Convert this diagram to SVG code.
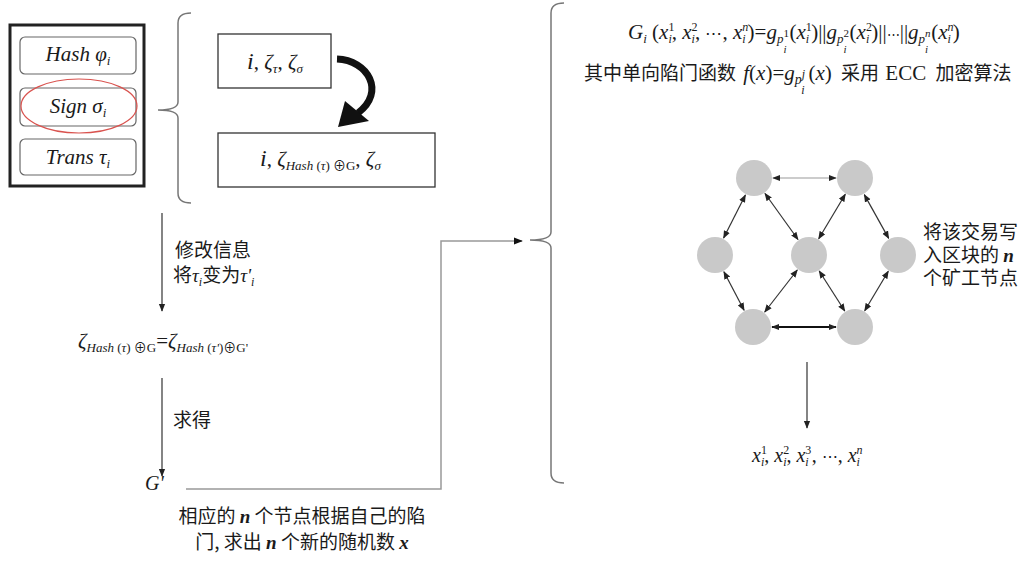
<svg xmlns="http://www.w3.org/2000/svg" width="1024" height="562" viewBox="0 0 1024 562">
<defs>
<style>
text{font-family:"Liberation Serif","Noto Sans CJK SC",serif;fill:#1a1a1a}
.it{font-style:italic}
.bi{font-style:italic;font-weight:bold;font-family:"Liberation Serif",serif}
.cn{font-family:"Noto Sans CJK SC","Liberation Serif",sans-serif}
.dots{font-family:"DejaVu Serif",serif;font-style:normal}
.inner{fill:#fff;stroke:#666;stroke-width:1.2}
.box{fill:#fff;stroke:#333;stroke-width:1.3}
.brace{fill:none;stroke:#777;stroke-width:1.5}
.node{fill:#c9c9c9}
.edge{stroke:#333;stroke-width:1.2;fill:none}
.arr{stroke:#333;stroke-width:1.2;fill:none}
</style>
<marker id="ah" viewBox="0 0 10 10" refX="9" refY="5" markerWidth="8" markerHeight="8" orient="auto-start-reverse" markerUnits="userSpaceOnUse"><path d="M0,1 L10,5 L0,9 z" fill="#222"/></marker>
<marker id="ahg" viewBox="0 0 10 10" refX="9" refY="5" markerWidth="9" markerHeight="9" orient="auto" markerUnits="userSpaceOnUse"><path d="M0,1 L10,5 L0,9 z" fill="#111"/></marker>
</defs>

<!-- transaction record -->
<g id="record">
<rect x="10" y="25" width="134" height="161" fill="#fff" stroke="#222" stroke-width="3"/>
</g>
<g id="hash">
<rect class="inner" x="20" y="37" width="116" height="37" rx="5"/>
<text class="it" x="78" y="61" font-size="21" text-anchor="middle">Hash φ<tspan font-size="13" dy="4">i</tspan></text>
</g>
<g id="sign">
<rect class="inner" x="20" y="88" width="116" height="38" rx="5"/>
<ellipse cx="79" cy="106" rx="58" ry="27" fill="none" stroke="#d9534f" stroke-width="1.2"/>
<text class="it" x="78" y="113" font-size="21" text-anchor="middle">Sign σ<tspan font-size="13" dy="4">i</tspan></text>
</g>
<g id="trans">
<rect class="inner" x="20" y="139" width="116" height="36" rx="5"/>
<text class="it" x="78" y="164" font-size="21" text-anchor="middle">Trans τ<tspan font-size="13" dy="4">i</tspan></text>
</g>

<!-- left brace -->
<g id="brace-left">
<path class="brace" d="M191,13 Q178,13 178,23 L178,102 Q178,110 158,110 Q178,110 178,118 L178,193 Q178,203 191,203"/>
</g>

<g id="box-old">
<rect class="box" x="218" y="34" width="113" height="54"/>
<text x="275" y="69" font-size="21" text-anchor="middle"><tspan class="it" font-size="24">i</tspan>, <tspan class="it">ζ</tspan><tspan class="it" font-size="13" dy="4">τ</tspan><tspan dy="-4">, </tspan><tspan class="it">ζ</tspan><tspan class="it" font-size="13" dy="4">σ</tspan></text>
</g>

<!-- curved transformation arrow -->
<g id="turn-arrow">
<path d="M337,59 C368,60 386,92 358,113" fill="none" stroke="#111" stroke-width="7"/>
<path d="M345,101 L369,121 L338,127 Z" fill="#111"/>
</g>

<g id="box-new">
<rect class="box" x="218" y="133" width="217" height="54"/>
<text x="260" y="166" font-size="21"><tspan class="it" font-size="24">i</tspan>, <tspan class="it">ζ</tspan><tspan class="it" font-size="13" dy="4">Hash </tspan><tspan font-size="13">(</tspan><tspan class="it" font-size="13">τ</tspan><tspan font-size="13">) ⊕G</tspan><tspan dy="-4">, </tspan><tspan class="it">ζ</tspan><tspan class="it" font-size="13" dy="4">σ</tspan></text>
</g>

<g id="eq-left">
<text x="78" y="348" font-size="21"><tspan class="it">ζ</tspan><tspan class="it" font-size="13" dy="4">Hash </tspan><tspan font-size="13">(</tspan><tspan class="it" font-size="13">τ</tspan><tspan font-size="13">) ⊕G</tspan><tspan dy="-4">=</tspan><tspan class="it">ζ</tspan><tspan class="it" font-size="13" dy="4">Hash </tspan><tspan font-size="13">(</tspan><tspan class="it" font-size="13">τ'</tspan><tspan font-size="13">)⊕G'</tspan></text>
</g>

<g id="g-prime">
<text class="it" x="145" y="490" font-size="20">G'</text>
<text class="cn" x="302" y="523" font-size="19" text-anchor="middle">相应的 <tspan class="bi">n</tspan> 个节点根据自己的陷</text>
<text class="cn" x="302" y="549" font-size="19" text-anchor="middle">门, 求出 <tspan class="bi">n</tspan> 个新的随机数 <tspan class="bi">x</tspan></text>
</g>

<!-- right brace -->
<g id="brace-right">
<path class="brace" d="M564,3 Q551,3 551,13 L551,232 Q551,240 530,240 Q551,240 551,248 L551,473 Q551,483 564,483"/>
</g>

<g id="formula">
<text x="628" y="39" font-size="21"><tspan class="it">G</tspan><tspan class="it" font-size="13" dy="4">i</tspan><tspan dy="-4"> (</tspan><tspan class="it">x</tspan><tspan font-size="12" dy="-8">1</tspan><tspan class="it" font-size="12" dx="-6" dy="12">i</tspan><tspan dy="-4">, </tspan><tspan class="it">x</tspan><tspan font-size="12" dy="-8">2</tspan><tspan class="it" font-size="12" dx="-6" dy="12">i</tspan><tspan dy="-4">, </tspan><tspan class="dots" font-size="17">⋯</tspan><tspan>, </tspan><tspan class="it">x</tspan><tspan class="it" font-size="12" dy="-8">n</tspan><tspan class="it" font-size="12" dx="-6" dy="12">i</tspan><tspan dx="2" dy="-4">)=</tspan><tspan class="it">g</tspan><tspan class="it" font-size="13" dy="4">p</tspan><tspan font-size="11" dy="-6">1</tspan><tspan class="it" font-size="11" dx="-5.5" dy="16">i</tspan><tspan dx="3" dy="-14">(</tspan><tspan class="it">x</tspan><tspan font-size="12" dy="-8">1</tspan><tspan class="it" font-size="12" dx="-6" dy="12">i</tspan><tspan dx="2" dy="-4">)||</tspan><tspan class="it">g</tspan><tspan class="it" font-size="13" dy="4">p</tspan><tspan font-size="11" dy="-6">2</tspan><tspan class="it" font-size="11" dx="-5.5" dy="16">i</tspan><tspan dx="3" dy="-14">(</tspan><tspan class="it">x</tspan><tspan font-size="12" dy="-8">2</tspan><tspan class="it" font-size="12" dx="-6" dy="12">i</tspan><tspan dx="2" dy="-4">)||</tspan><tspan class="dots" font-size="13">⋯</tspan><tspan>||</tspan><tspan class="it">g</tspan><tspan class="it" font-size="13" dy="4">p</tspan><tspan class="it" font-size="11" dy="-6">n</tspan><tspan class="it" font-size="11" dx="-5.5" dy="16">i</tspan><tspan dx="3" dy="-14">(</tspan><tspan class="it">x</tspan><tspan class="it" font-size="12" dy="-8">n</tspan><tspan class="it" font-size="12" dx="-6" dy="12">i</tspan><tspan dx="2" dy="-4">)</tspan></text>
<text x="584" y="80" font-size="19"><tspan class="cn">其中单向陷门函数 </tspan><tspan class="it" font-size="21" dx="3">f</tspan><tspan font-size="21">(</tspan><tspan class="it" font-size="21">x</tspan><tspan font-size="21">)=</tspan><tspan class="it" font-size="21">g</tspan><tspan class="it" font-size="14" dy="4">p</tspan><tspan class="it" font-size="12" dy="-6">j</tspan><tspan class="it" font-size="12" dx="-4" dy="16">i</tspan><tspan font-size="21" dx="4" dy="-14">(</tspan><tspan class="it" font-size="21">x</tspan><tspan font-size="21">) </tspan><tspan class="cn" dx="4">采用 </tspan><tspan font-size="21" dx="2">ECC </tspan><tspan class="cn" dx="4">加密算法</tspan></text>
</g>

<!-- miner network -->
<g id="node-tl"><circle class="node" cx="754" cy="178" r="18"/></g>
<g id="node-tr"><circle class="node" cx="855" cy="178" r="18"/></g>
<g id="node-l"><circle class="node" cx="715" cy="255" r="18"/></g>
<g id="node-c"><circle class="node" cx="809" cy="255" r="18"/></g>
<g id="node-r"><circle class="node" cx="898" cy="255" r="18"/></g>
<g id="node-bl"><circle class="node" cx="753" cy="327" r="18"/></g>
<g id="node-br"><circle class="node" cx="855" cy="327" r="18"/></g>

<g id="miner-label">
<text class="cn" x="923" y="239" font-size="19">将该交易写</text>
<text class="cn" x="923" y="262" font-size="19">入区块的 <tspan class="bi">n</tspan></text>
<text class="cn" x="923" y="285" font-size="19">个矿工节点</text>
</g>

<g id="x-list">
<text x="752" y="462" font-size="20"><tspan class="it">x</tspan><tspan font-size="12" dy="-8">1</tspan><tspan class="it" font-size="12" dx="-6" dy="12">i</tspan><tspan dy="-4">, </tspan><tspan class="it">x</tspan><tspan font-size="12" dy="-8">2</tspan><tspan class="it" font-size="12" dx="-6" dy="12">i</tspan><tspan dy="-4">, </tspan><tspan class="it">x</tspan><tspan font-size="12" dy="-8">3</tspan><tspan class="it" font-size="12" dx="-6" dy="12">i</tspan><tspan dx="3" dy="-4">, </tspan><tspan class="dots" font-size="16">⋯</tspan><tspan>, </tspan><tspan class="it">x</tspan><tspan class="it" font-size="12" dy="-8">n</tspan><tspan class="it" font-size="12" dx="-6" dy="12">i</tspan></text>
</g>

<g id="labels-left">
<text class="cn" x="175" y="257" font-size="19">修改信息</text>
<text x="173" y="282" font-size="19"><tspan class="cn">将</tspan><tspan class="it">τ</tspan><tspan class="it" font-size="12" dy="4">i</tspan><tspan class="cn" dy="-4">变为</tspan><tspan class="it">τ'</tspan><tspan class="it" font-size="12" dy="4">i</tspan></text>
<text class="cn" x="173" y="427" font-size="19">求得</text>
</g>

<g id="connectors">
<line class="arr" x1="162" y1="213" x2="162" y2="311" marker-end="url(#ah)"/>
<line class="arr" x1="162" y1="378" x2="162" y2="476" marker-end="url(#ah)"/>
<polyline points="186,489 441,489 441,241 522,241" fill="none" stroke="#999" stroke-width="1.5" marker-end="url(#ahg)"/>
<line class="arr" x1="807" y1="362" x2="807" y2="428" stroke-width="1.5" marker-end="url(#ah)"/>
<line x1="773" y1="178" x2="836" y2="178" stroke="#999" stroke-width="1" marker-start="url(#ah)" marker-end="url(#ah)"/>
<line x1="772" y1="327" x2="836" y2="327" stroke="#111" stroke-width="2" marker-start="url(#ah)" marker-end="url(#ah)"/>
<line class="edge" x1="745.4" y1="195" x2="723.6" y2="238" marker-start="url(#ah)" marker-end="url(#ah)"/>
<line class="edge" x1="765" y1="193.5" x2="798" y2="239.5" marker-start="url(#ah)" marker-end="url(#ah)"/>
<line class="edge" x1="845.3" y1="194.3" x2="818.7" y2="238.7" marker-start="url(#ah)" marker-end="url(#ah)"/>
<line class="edge" x1="864.3" y1="194.6" x2="888.7" y2="238.4" marker-start="url(#ah)" marker-end="url(#ah)"/>
<line class="edge" x1="723.9" y1="271.8" x2="744.1" y2="310.2" marker-start="url(#ah)" marker-end="url(#ah)"/>
<line class="edge" x1="797.3" y1="270" x2="764.7" y2="312" marker-start="url(#ah)" marker-end="url(#ah)"/>
<line class="edge" x1="819.2" y1="271" x2="844.8" y2="311" marker-start="url(#ah)" marker-end="url(#ah)"/>
<line class="edge" x1="888.3" y1="271.3" x2="864.7" y2="310.7" marker-start="url(#ah)" marker-end="url(#ah)"/>
</g>
</svg>
